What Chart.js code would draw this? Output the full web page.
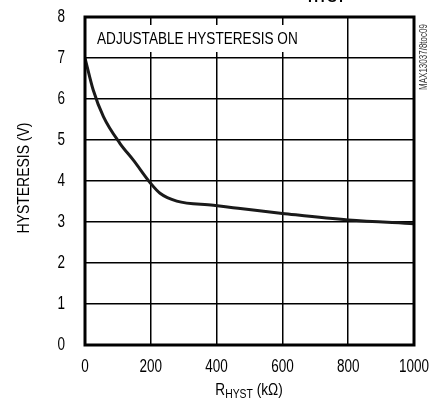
<!DOCTYPE html>
<html>
<head>
  <meta charset="UTF-8">
  <title>Hysteresis vs RHYST</title>
  <script src="https://cdn.jsdelivr.net/npm/chart.js"></script>
  <style>
    body { margin: 0; background: #fff; }
    #wrap { width: 432px; height: 404px; }
  </style>
</head>
<body>
<div id="wrap"><canvas id="grafico"></canvas></div>
<script>
  // R_HYST (kOhm) and hysteresis (V)
  const rHyst = [0, 25, 56, 106, 147, 200, 228, 279, 390, 450, 511, 600, 800, 1000];
  const hysteresis = [7.0, 6.22, 5.57, 4.92, 4.51, 3.94, 3.70, 3.51, 3.41, 3.35, 3.29, 3.21, 3.05, 2.96];
  const xTicks = [0, 200, 400, 600, 800, 1000];
  const yTicks = [0, 1, 2, 3, 4, 5, 6, 7, 8];

  const FONT = "'Liberation Sans', Arial, sans-serif";

  const puntos = rHyst.map((x, i) => ({ x: x, y: hysteresis[i] }));

  // condensed text: the font has no narrow cut here, so squeeze it
  function texto(ctx, t, x, y, size, align, sx, base) {
    ctx.save();
    ctx.font = size + "px " + FONT;
    ctx.textAlign = align;
    ctx.textBaseline = base || "middle";
    ctx.translate(x, y);
    ctx.scale(sx, 1);
    ctx.fillText(t, 0, 0);
    ctx.restore();
  }

  const extras = {
    id: "extras",
    afterDraw(chart) {
      const ctx = chart.ctx;
      const a = chart.chartArea;
      const sx = chart.scales.x, sy = chart.scales.y;
      ctx.save();
      ctx.fillStyle = "#000";

      // tick labels
      yTicks.forEach(v => texto(ctx, String(v), 65, sy.getPixelForValue(v), 18, "right", 0.75));
      xTicks.forEach(v => texto(ctx, String(v), sx.getPixelForValue(v), 367, 18, "center", 0.75));

      // white box behind the note
      ctx.fillStyle = "#fff";
      ctx.fillRect(a.left + 2, 25, 220, 27);
      ctx.fillStyle = "#000";
      texto(ctx, "ADJUSTABLE HYSTERESIS ON", 97, 39, 17, "left", 0.8);

      // frame
      ctx.strokeStyle = "#000";
      ctx.lineWidth = 3;
      ctx.strokeRect(a.left, a.top, a.right - a.left, a.bottom - a.top);

      // y title
      ctx.save();
      ctx.translate(24, 178);
      ctx.rotate(-Math.PI / 2);
      texto(ctx, "HYSTERESIS (V)", 0, 0, 17, "center", 0.82);
      ctx.restore();

      // x title with subscript
      const k = 0.8;
      ctx.font = "17px " + FONT;
      const wR = ctx.measureText("R").width * k;
      const wT = ctx.measureText(" (k\u03A9)").width * k;
      ctx.font = "13px " + FONT;
      const wS = ctx.measureText("HYST").width * k;
      let x = 249 - (wR + wS + wT) / 2;
      texto(ctx, "R", x, 395, 17, "left", k, "alphabetic"); x += wR;
      texto(ctx, "HYST", x, 398, 13, "left", k, "alphabetic"); x += wS;
      texto(ctx, " (k\u03A9)", x, 395, 17, "left", k, "alphabetic");

      // side code
      ctx.save();
      ctx.translate(424, 57);
      ctx.rotate(-Math.PI / 2);
      ctx.fillStyle = "#333";
      texto(ctx, "MAX13037/8toc09", 0, 0, 10, "center", 0.8);
      ctx.restore();

      // cut-off fragment at the very top
      ctx.font = "bold 14px " + FONT;
      ctx.textBaseline = "alphabetic";
      ctx.textAlign = "left";
      ctx.fillText("HYST", 308, 1.5);
      ctx.restore();
    }
  };

  new Chart(document.getElementById("grafico"), {
    type: "line",
    data: {
      datasets: [{
        data: puntos,
        borderColor: "#1a1a1a",
        borderWidth: 3,
        pointRadius: 0,
        fill: false,
        cubicInterpolationMode: "monotone"
      }]
    },
    options: {
      responsive: true,
      maintainAspectRatio: false,
      animation: false,
      layout: { padding: { top: 17, right: 18, left: 0, bottom: 0 } },
      plugins: { legend: { display: false }, tooltip: { enabled: false } },
      scales: {
        x: {
          type: "linear", min: 0, max: 1000,
          afterBuildTicks: s => { s.ticks = xTicks.map(v => ({ value: v })); },
          afterFit: s => { s.height = 59; },
          ticks: { display: false },
          grid: { color: "#000", lineWidth: 1.5, drawTicks: false },
          border: { display: false }
        },
        y: {
          min: 0, max: 8,
          afterBuildTicks: s => { s.ticks = yTicks.map(v => ({ value: v })); },
          afterFit: s => { s.width = 85; },
          ticks: { display: false },
          grid: { color: "#000", lineWidth: 1.5, drawTicks: false },
          border: { display: false }
        }
      }
    },
    plugins: [extras]
  });
</script>
</body>
</html>
